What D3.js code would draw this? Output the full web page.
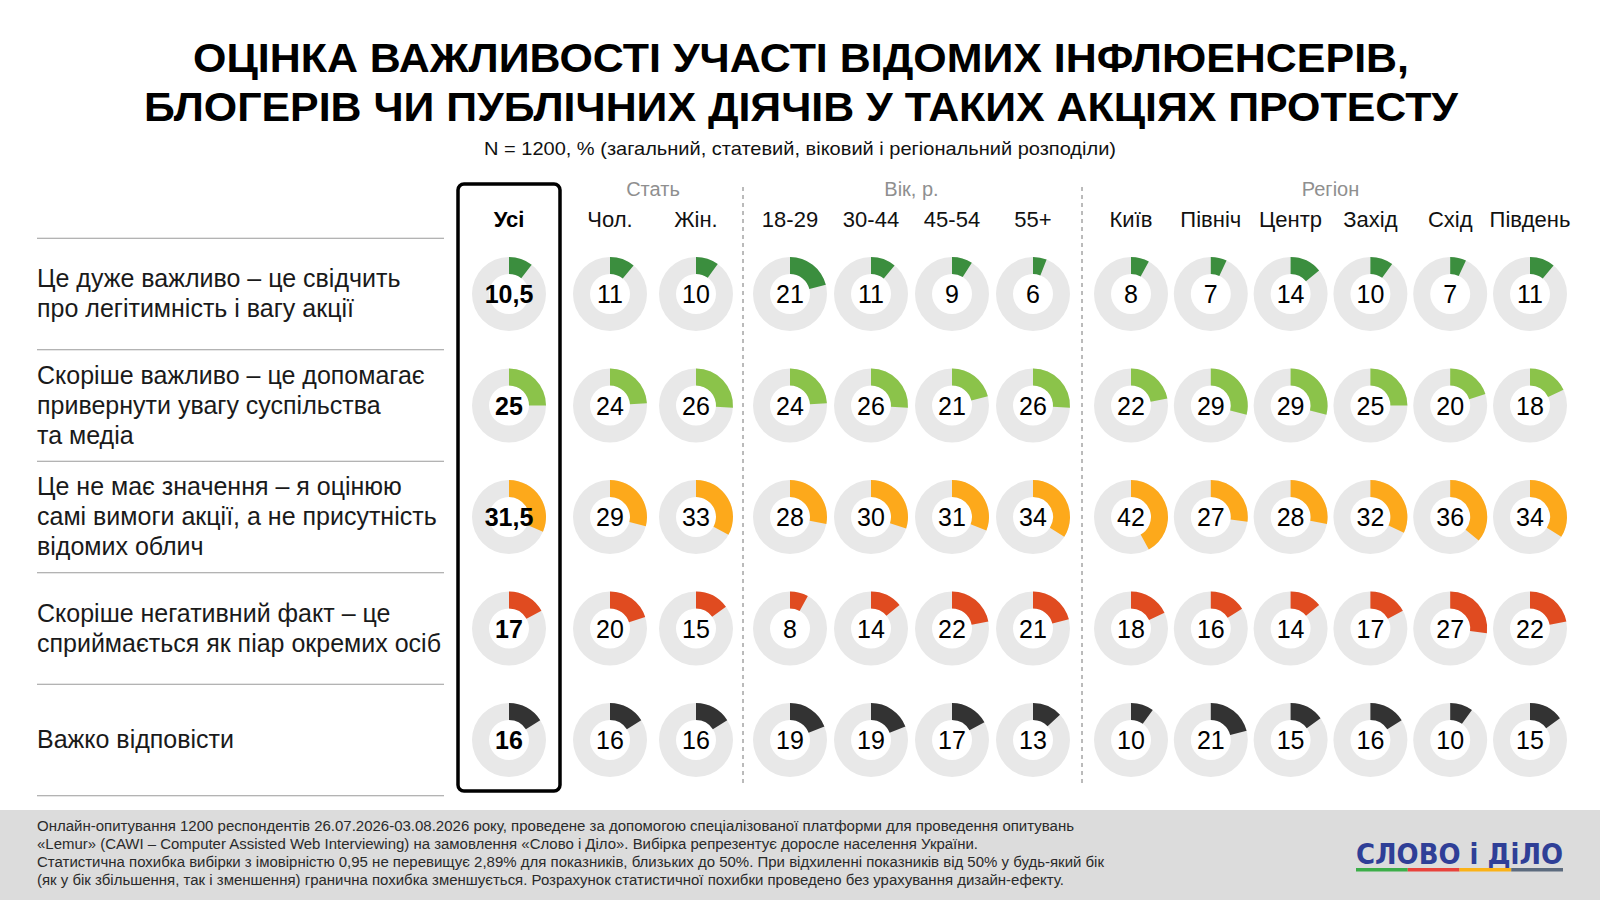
<!DOCTYPE html>
<html>
<head>
<meta charset="utf-8">
<script src="https://cdn.jsdelivr.net/npm/d3@7"></script>
<style>
  html, body { margin: 0; padding: 0; background: #fff; }
  svg { display: block; font-family: 'Liberation Sans', Arial, sans-serif; }
</style>
</head>
<body>
<div id="graph"></div>
<script>
const svgw = 1600
const svgh = 900

// data
const titleLines = ['ОЦІНКА ВАЖЛИВОСТІ УЧАСТІ ВІДОМИХ ІНФЛЮЕНСЕРІВ,',
    'БЛОГЕРІВ ЧИ ПУБЛІЧНИХ ДІЯЧІВ У ТАКИХ АКЦІЯХ ПРОТЕСТУ']
const subtitle = 'N = 1200, % (загальний, статевий, віковий і регіональний розподіли)'

const totalCol = 'Усі'
const groupNames = ['Стать', 'Вік, р.', 'Регіон']
const groupCols = [
    ['Чол.', 'Жін.'],
    ['18-29', '30-44', '45-54', '55+'],
    ['Київ', 'Північ', 'Центр', 'Захід', 'Схід', 'Південь']
]

const answers = [
    ['Це дуже важливо – це свідчить', 'про легітимність і вагу акції'],
    ['Скоріше важливо – це допомагає', 'привернути увагу суспільства', 'та медіа'],
    ['Це не має значення – я оцінюю', 'самі вимоги акції, а не присутність', 'відомих облич'],
    ['Скоріше негативний факт – це', 'сприймається як піар окремих осіб'],
    ['Важко відповісти']
]
const colors = ['#3b8e3e', '#8bc34a', '#fda91b', '#e04b20', '#333333']

// order: Усі, Чол., Жін., 18-29, 30-44, 45-54, 55+, Київ, Північ, Центр, Захід, Схід, Південь
const veryImportant = [10.5, 11, 10, 21, 11, 9, 6, 8, 7, 14, 10, 7, 11]
const ratherImportant = [25, 24, 26, 24, 26, 21, 26, 22, 29, 29, 25, 20, 18]
const noMatter = [31.5, 29, 33, 28, 30, 31, 34, 42, 27, 28, 32, 36, 34]
const negative = [17, 20, 15, 8, 14, 22, 21, 18, 16, 14, 17, 27, 22]
const hardToSay = [16, 16, 16, 19, 19, 17, 13, 10, 21, 15, 16, 10, 15]
const values = [veryImportant, ratherImportant, noMatter, negative, hardToSay]

const footnote = [
    'Онлайн-опитування 1200 респондентів 26.07.2026-03.08.2026 року, проведене за допомогою спеціалізованої платформи для проведення опитувань',
    '«Lemur» (CAWI – Computer Assisted Web Interviewing) на замовлення «Слово і Діло». Вибірка репрезентує доросле населення України.',
    'Статистична похибка вибірки з імовірністю 0,95 не перевищує 2,89% для показників, близьких до 50%. При відхиленні показників від 50% у будь-який бік',
    '(як у бік збільшення, так і зменшення) гранична похибка зменшується. Розрахунок статистичної похибки проведено без урахування дизайн-ефекту.'
]
const footWidths = [1037, 941, 1067, 1027]

const allCols = [totalCol].concat(...groupCols)

const svg = d3.select('#graph')
    .append('svg')
    .attr('width', svgw)
    .attr('height', svgh)

// scales
const groupRanges = [[610, 696], [790, 1033], [1131, 1530]]
const groupScales = groupCols.map((cols, i) => d3.scalePoint().domain(cols).range(groupRanges[i]))
function xPos(col) {
    if (col === totalCol) return 509
    for (const s of groupScales) {
        if (s.domain().includes(col)) return s(col)
    }
}
const yScale = d3.scalePoint()
    .domain(d3.range(answers.length))
    .range([294, 740])
const step = yScale.step()

// title
svg.selectAll('.title')
    .data(titleLines)
    .enter()
    .append('text')
    .attr('class', 'title')
    .attr('x', 801)
    .attr('y', (d, i) => 72 + i * 49)
    .attr('text-anchor', 'middle')
    .attr('font-size', 40)
    .attr('font-weight', 'bold')
    .attr('fill', '#000')
    .attr('textLength', (d, i) => [1216, 1314][i])
    .attr('lengthAdjust', 'spacingAndGlyphs')
    .text(d => d)

svg.append('text')
    .attr('x', 800)
    .attr('y', 155)
    .attr('text-anchor', 'middle')
    .attr('font-size', 18.5)
    .attr('fill', '#111')
    .attr('textLength', 632)
    .attr('lengthAdjust', 'spacingAndGlyphs')
    .text(subtitle)

// column headers
svg.append('text')
    .attr('x', xPos(totalCol))
    .attr('y', 227)
    .attr('text-anchor', 'middle')
    .attr('font-size', 22)
    .attr('font-weight', 'bold')
    .text(totalCol)

svg.selectAll('.colhead')
    .data(allCols.slice(1))
    .enter()
    .append('text')
    .attr('class', 'colhead')
    .attr('x', d => xPos(d))
    .attr('y', 227)
    .attr('text-anchor', 'middle')
    .attr('font-size', 22)
    .attr('fill', '#111')
    .text(d => d)

svg.selectAll('.grouphead')
    .data(groupNames)
    .enter()
    .append('text')
    .attr('class', 'grouphead')
    .attr('x', (d, i) => d3.mean(groupScales[i].range()))
    .attr('y', 196)
    .attr('text-anchor', 'middle')
    .attr('font-size', 20)
    .attr('fill', '#8f8f8f')
    .text(d => d)

// dashed separators between groups
const seps = [
    (groupRanges[0][1] + groupRanges[1][0]) / 2,
    (groupRanges[1][1] + groupRanges[2][0]) / 2
]
svg.selectAll('.sep')
    .data(seps)
    .enter()
    .append('line')
    .attr('class', 'sep')
    .attr('x1', d => d)
    .attr('x2', d => d)
    .attr('y1', 187)
    .attr('y2', 784)
    .attr('stroke', '#777')
    .attr('stroke-width', 1)
    .attr('stroke-dasharray', '4,4')

// row lines
const lineYs = d3.range(answers.length + 1).map(i => yScale(0) - step / 2 + i * step)
svg.selectAll('.rowline')
    .data(lineYs)
    .enter()
    .append('line')
    .attr('class', 'rowline')
    .attr('x1', 37)
    .attr('x2', 444)
    .attr('y1', d => d)
    .attr('y2', d => d)
    .attr('stroke', '#9a9a9a')
    .attr('stroke-width', 1)

// row labels
const labelG = svg.selectAll('.label')
    .data(answers)
    .enter()
    .append('text')
    .attr('class', 'label')
    .attr('font-size', 25)
    .attr('fill', '#1a1a1a')

labelG.selectAll('tspan')
    .data((d, i) => d.map((t, j) => ({ t, j, n: d.length, row: i })))
    .enter()
    .append('tspan')
    .attr('x', 37)
    .attr('y', d => yScale(d.row) + 8 + (d.j - (d.n - 1) / 2) * 30)
    .text(d => d.t)

// total column frame
svg.append('rect')
    .attr('x', 458)
    .attr('y', 184)
    .attr('width', 102)
    .attr('height', 607)
    .attr('rx', 6)
    .attr('fill', 'none')
    .attr('stroke', '#000')
    .attr('stroke-width', 3.5)

// donuts
const rOuter = 37
const rInner = 20
const arc = d3.arc().innerRadius(rInner).outerRadius(rOuter)
const angle = d3.scaleLinear().domain([0, 100]).range([0, 2 * Math.PI])

const cells = []
values.forEach((row, i) => {
    row.forEach((v, j) => cells.push({ row: i, col: allCols[j], v }))
})

const donut = svg.selectAll('.donut')
    .data(cells)
    .enter()
    .append('g')
    .attr('class', 'donut')
    .attr('transform', d => `translate(${xPos(d.col)},${yScale(d.row)})`)

donut.append('path')
    .attr('d', arc({ startAngle: 0, endAngle: 2 * Math.PI }))
    .attr('fill', '#e8e8e8')

donut.append('path')
    .attr('d', d => arc({ startAngle: 0, endAngle: angle(d.v) }))
    .attr('fill', d => colors[d.row])

donut.append('text')
    .attr('text-anchor', 'middle')
    .attr('y', 9)
    .attr('font-size', 25)
    .attr('font-weight', d => d.col === totalCol ? 'bold' : 'normal')
    .attr('fill', '#000')
    .text(d => String(d.v).replace('.', ','))

// footer
svg.append('rect')
    .attr('x', 0)
    .attr('y', 810)
    .attr('width', svgw)
    .attr('height', 90)
    .attr('fill', '#dcdcdc')

svg.selectAll('.foot')
    .data(footnote)
    .enter()
    .append('text')
    .attr('class', 'foot')
    .attr('x', 37)
    .attr('y', (d, i) => 831 + i * 18)
    .attr('font-size', 14)
    .attr('fill', '#2a2a2a')
    .attr('textLength', (d, i) => footWidths[i])
    .attr('lengthAdjust', 'spacingAndGlyphs')
    .text(d => d)

// logo
svg.append('text')
    .attr('x', 1356)
    .attr('y', 864)
    .attr('font-family', "'DejaVu Sans', sans-serif")
    .attr('font-size', 28)
    .attr('font-weight', 'bold')
    .attr('fill', '#2f3f97')
    .attr('textLength', 207)
    .attr('lengthAdjust', 'spacingAndGlyphs')
    .text('СЛОВО і ДіЛО')

const logoColors = ['#3cae49', '#e8423b', '#fbb217', '#5c6b7e']
const logoX = d3.scaleBand().domain(d3.range(logoColors.length)).range([1356, 1563])
svg.selectAll('.logobar')
    .data(logoColors)
    .enter()
    .append('rect')
    .attr('class', 'logobar')
    .attr('x', (d, i) => logoX(i))
    .attr('y', 868)
    .attr('width', logoX.bandwidth())
    .attr('height', 3.5)
    .attr('fill', d => d)
</script>
</body>
</html>
